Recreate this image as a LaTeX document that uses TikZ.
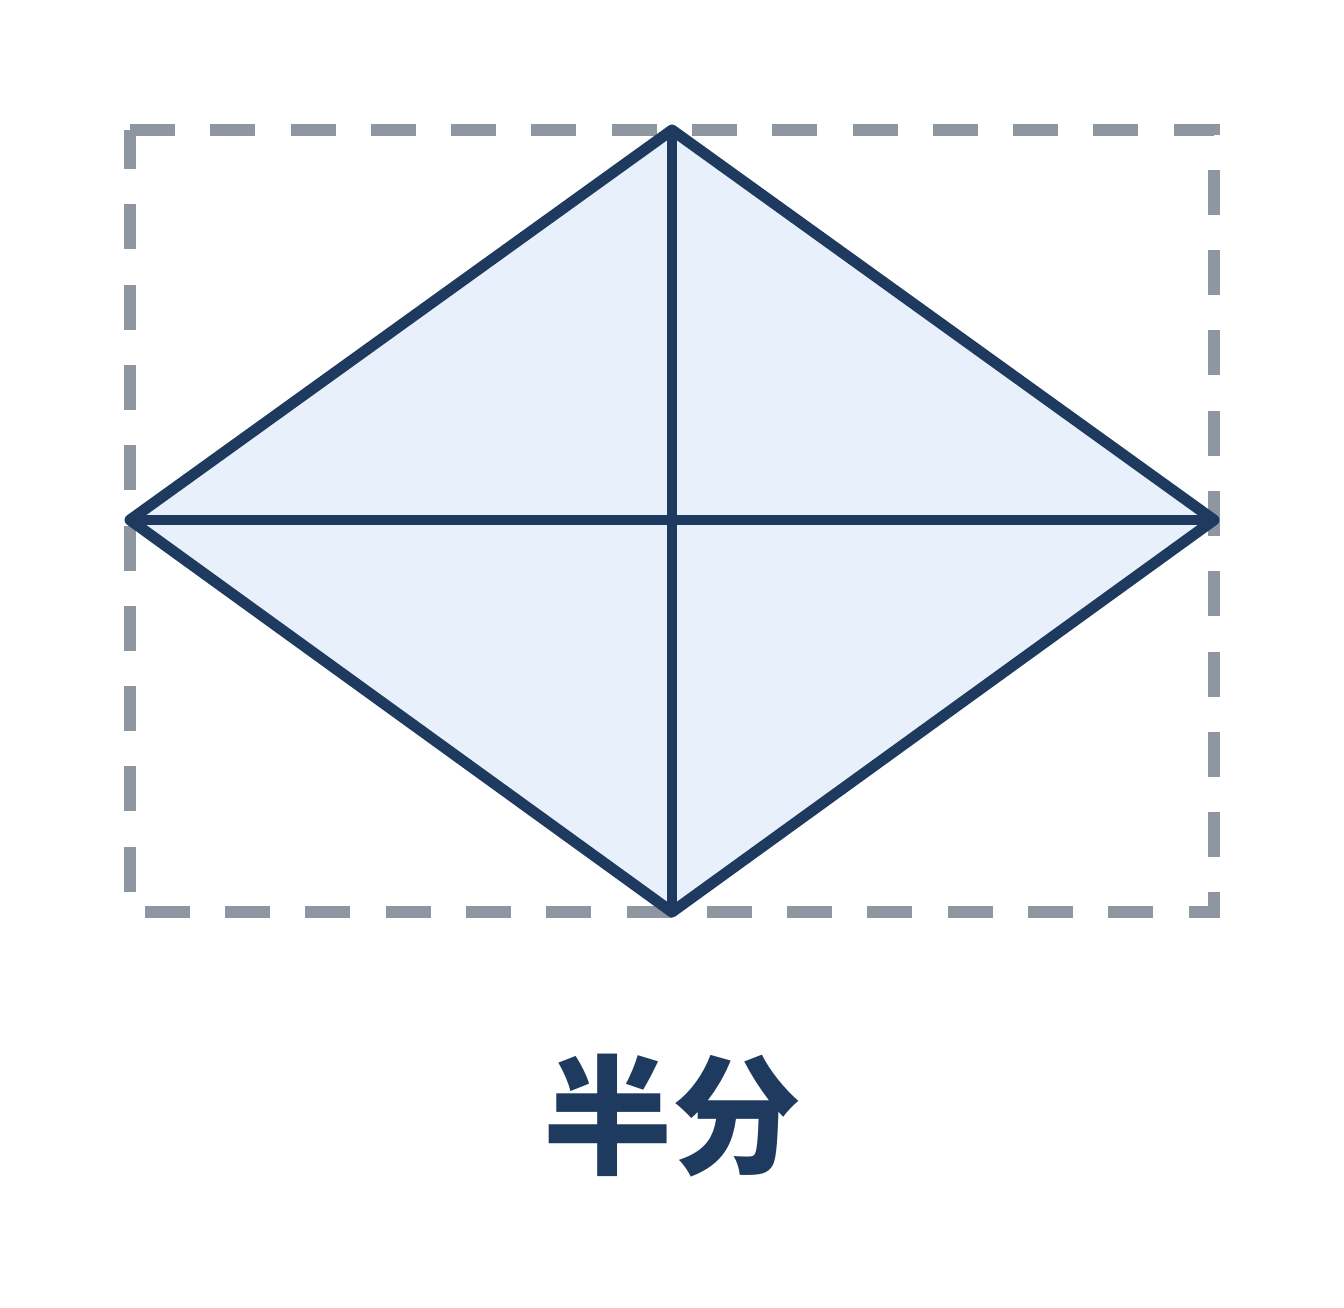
\documentclass[tikz,border=0pt]{standalone}
\usepackage{fontspec}
\newfontfamily\cjk{Noto Sans CJK SC}
\definecolor{navy}{HTML}{1E3A5F}
\definecolor{frame}{HTML}{8E96A1}
\definecolor{paleblue}{HTML}{E8F0FC}
\tikzset{
  guide/.style={draw=frame, line width=12pt, dash pattern=on 45pt off 35.28pt, line join=miter},
  edge/.style={draw=navy, line width=11pt, line join=round, line cap=round},
  axis/.style={draw=navy, line width=10pt, line cap=round},
  caption/.style={text=navy, font=\cjk\bfseries\fontsize{129pt}{134pt}\selectfont, inner sep=0pt, anchor=base}
}
\begin{document}
\begin{tikzpicture}[x=1pt,y=-1pt]
\useasboundingbox[fill=white] (0,0) rectangle (1344,1307);
\coordinate (tl) at (130,130);
\coordinate (tr) at (1214,130);
\coordinate (br) at (1214,912);
\coordinate (bl) at (130,912);
\coordinate (T) at (672,130);
\coordinate (R) at (1214,520);
\coordinate (B) at (672,912);
\coordinate (L) at (130,520);
\fill[paleblue] (T) -- (R) -- (B) -- (L) -- cycle;
\draw[guide] (tl) -- (tr) -- (br) -- (bl) -- cycle;
\draw[axis] (T) -- (B);
\draw[axis] (L) -- (R);
\draw[edge] (T) -- (R) -- (B) -- (L) -- cycle;
\node[caption] (cap) at (672,1164) {半分};
\end{tikzpicture}
\end{document}
